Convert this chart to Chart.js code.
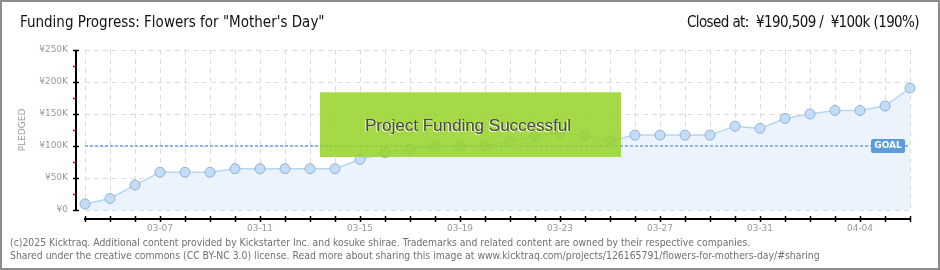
<!DOCTYPE html>
<html>
<head>
<meta charset="utf-8">
<script src="https://cdn.jsdelivr.net/npm/chart.js@4.4.1/dist/chart.umd.min.js"></script>
<style>
    html, body { margin: 0; padding: 0; background: #fff; }
    #wrap { position: relative; width: 940px; height: 270px; overflow: hidden; }
    #chart { position: absolute; left: 0; top: 0; }
    #frame { position: absolute; left: 0; top: 0; width: 936px; height: 266px; border: 2px solid #8c8c8c; pointer-events: none; }
    .title { position: absolute; top: 13px; font: 15px "Liberation Sans Narrow", "DejaVu Sans Condensed", sans-serif; color: #111; white-space: nowrap; }
    #title-left { left: 20px; }
    #title-right { right: 21px; letter-spacing: -0.6px; }
    .foot { position: absolute; left: 10px; font: 10.35px "DejaVu Sans Condensed", "DejaVu Sans", sans-serif; color: #707070; white-space: nowrap; }
    #success { position: absolute; left: 320px; top: 92px; width: 301px; height: 65px; background: rgba(150, 210, 40, 0.85); border-top: 1px solid rgba(190, 235, 110, 0.9); box-sizing: border-box; }
    #success span { position: absolute; left: 45px; top: 23px; font: 17px "Liberation Sans Narrow", sans-serif; color: #4a4a4a; text-shadow: -1px 1px 0 rgba(255,255,255,0.8); white-space: nowrap; }
</style>
</head>
<body>
<div id="wrap">
    <canvas id="chart" width="940" height="270"></canvas>
    <div class="title" id="title-left">Funding Progress: Flowers for "Mother's Day"</div>
    <div class="title" id="title-right">Closed at:&nbsp; ¥190,509 /&nbsp; ¥100k (190%)</div>
    <div id="success"><span>Project Funding Successful</span></div>
    <div class="foot" style="top:236px">(c)2025 Kicktraq. Additional content provided by Kickstarter Inc. and kosuke shirae. Trademarks and related content are owned by their respective companies.</div>
    <div class="foot" style="top:249px">Shared under the creative commons (CC BY-NC 3.0) license. Read more about sharing this image at www.kicktraq.com/projects/126165791/flowers-for-mothers-day/#sharing</div>
    <div id="frame"></div>
</div>
<script>
// ------------------------------------------------------------
// Data
// ------------------------------------------------------------
const dates = [
    "03-04", "03-05", "03-06", "03-07", "03-08", "03-09", "03-10", "03-11", "03-12",
    "03-13", "03-14", "03-15", "03-16", "03-17", "03-18", "03-19", "03-20", "03-21",
    "03-22", "03-23", "03-24", "03-25", "03-26", "03-27", "03-28", "03-29", "03-30",
    "03-31", "04-01", "04-02", "04-03", "04-04", "04-05", "04-06"
];
const pledged = [
    9500, 18000, 39000, 59000, 59000, 59000, 64500, 64500, 64500,
    64500, 64500, 79000, 89500, 95000, 100000, 100000, 100000, 107500,
    115500, 121000, 117000, 108000, 117000, 117000, 117000, 117000, 131000,
    127500, 143000, 150000, 155500, 155500, 162500, 190509
];
const shownDates = ["03-07", "03-11", "03-15", "03-19", "03-23", "03-27", "03-31", "04-04"];
const yTickLabels = ["¥0", "¥50K", "¥100K", "¥150K", "¥200K", "¥250K"];
const goal = 100000;

const AXIS_GAP = 9;

// goal line, GOAL badge and the offset black axes
const decorations = {
    id: "decorations",
    afterDatasetsDraw(chart) {
        const { ctx, chartArea: a, scales: { y } } = chart;
        const gy = Math.round(y.getPixelForValue(goal));
        ctx.save();
        ctx.strokeStyle = "#8fb6e2";
        ctx.lineWidth = 2;
        ctx.setLineDash([3, 2]);
        ctx.beginPath();
        ctx.moveTo(a.left, gy);
        ctx.lineTo(a.right, gy);
        ctx.stroke();
        ctx.restore();
    },
    afterDraw(chart) {
        const { ctx, chartArea: a, scales: { x, y } } = chart;
        ctx.save();
        // y axis
        const ax = a.left - AXIS_GAP;
        ctx.strokeStyle = "#000";
        ctx.lineWidth = 2;
        ctx.beginPath();
        ctx.moveTo(ax, y.getPixelForValue(250000));
        ctx.lineTo(ax, y.getPixelForValue(0) + 1);
        ctx.stroke();
        ctx.lineWidth = 1.5;
        for (let v = 0; v <= 250000; v += 25000) {
            const py = Math.round(y.getPixelForValue(v)) + 0.5;
            const major = v % 50000 === 0;
            ctx.strokeStyle = major ? "#000" : "#e00";
            ctx.beginPath();
            ctx.moveTo(ax - 3, py);
            ctx.lineTo(major ? ax + 3 : ax, py);
            ctx.stroke();
        }
        // x axis
        const by = a.bottom + AXIS_GAP;
        ctx.strokeStyle = "#000";
        ctx.lineWidth = 2;
        ctx.beginPath();
        ctx.moveTo(x.getPixelForValue(0) - 1, by);
        ctx.lineTo(x.getPixelForValue(dates.length - 1) + 1, by);
        ctx.stroke();
        ctx.lineWidth = 1.5;
        for (let i = 0; i < dates.length; i++) {
            const px = Math.round(x.getPixelForValue(i)) + 0.5;
            ctx.beginPath();
            ctx.moveTo(px, by - 3);
            ctx.lineTo(px, by + 3);
            ctx.stroke();
        }
        // GOAL badge
        const gy = y.getPixelForValue(goal);
        const bx = 871, bw = 34, bh = 14;
        ctx.fillStyle = "#5c9bdc";
        ctx.beginPath();
        ctx.roundRect(bx, gy - 7, bw, bh, 2);
        ctx.fill();
        ctx.fillStyle = "#fff";
        ctx.font = "bold 9px 'DejaVu Sans', sans-serif";
        ctx.textAlign = "center";
        ctx.textBaseline = "middle";
        ctx.fillText("GOAL", bx + bw / 2, gy);
        ctx.restore();
    }
};

new Chart(document.getElementById("chart"), {
    type: "line",
    data: {
        labels: dates,
        datasets: [{
            data: pledged,
            borderColor: "#b6d6f4",
            borderWidth: 1.5,
            backgroundColor: "#ebf3fc",
            fill: "origin",
            tension: 0,
            pointRadius: 5,
            pointBackgroundColor: "#c4ddf7",
            pointBorderColor: "#8fb1d6",
            pointBorderWidth: 1
        }]
    },
    options: {
        responsive: false,
        animation: false,
        events: [],
        layout: { padding: { left: 0, right: 30, top: 50, bottom: 0 } },
        plugins: { legend: { display: false }, tooltip: { enabled: false } },
        scales: {
            x: {
                offset: false,
                afterFit: s => { s.height = 60; },
                border: { display: false, dash: [5, 4] },
                grid: { color: "#dcdcdc", lineWidth: 1, drawTicks: false },
                ticks: {
                    autoSkip: false,
                    maxRotation: 0,
                    padding: 13,
                    color: "#999",
                    font: { family: "DejaVu Sans", size: 9 },
                    callback: (v, i) => shownDates.includes(dates[i]) ? dates[i] : ""
                }
            },
            y: {
                min: 0,
                max: 250000,
                afterFit: s => { s.width = 85; },
                border: { display: false, dash: [5, 4] },
                grid: { color: "#dcdcdc", lineWidth: 1, drawTicks: false },
                ticks: {
                    stepSize: 50000,
                    padding: 17,
                    color: "#999",
                    font: { family: "DejaVu Sans", size: 9 },
                    callback: (v, i) => yTickLabels[i]
                },
                title: {
                    display: true,
                    text: "PLEDGED",
                    color: "#999",
                    font: { family: "DejaVu Sans", size: 9 },
                    padding: { top: 17, bottom: 0 }
                }
            }
        }
    },
    plugins: [decorations]
});
</script>
</body>
</html>
